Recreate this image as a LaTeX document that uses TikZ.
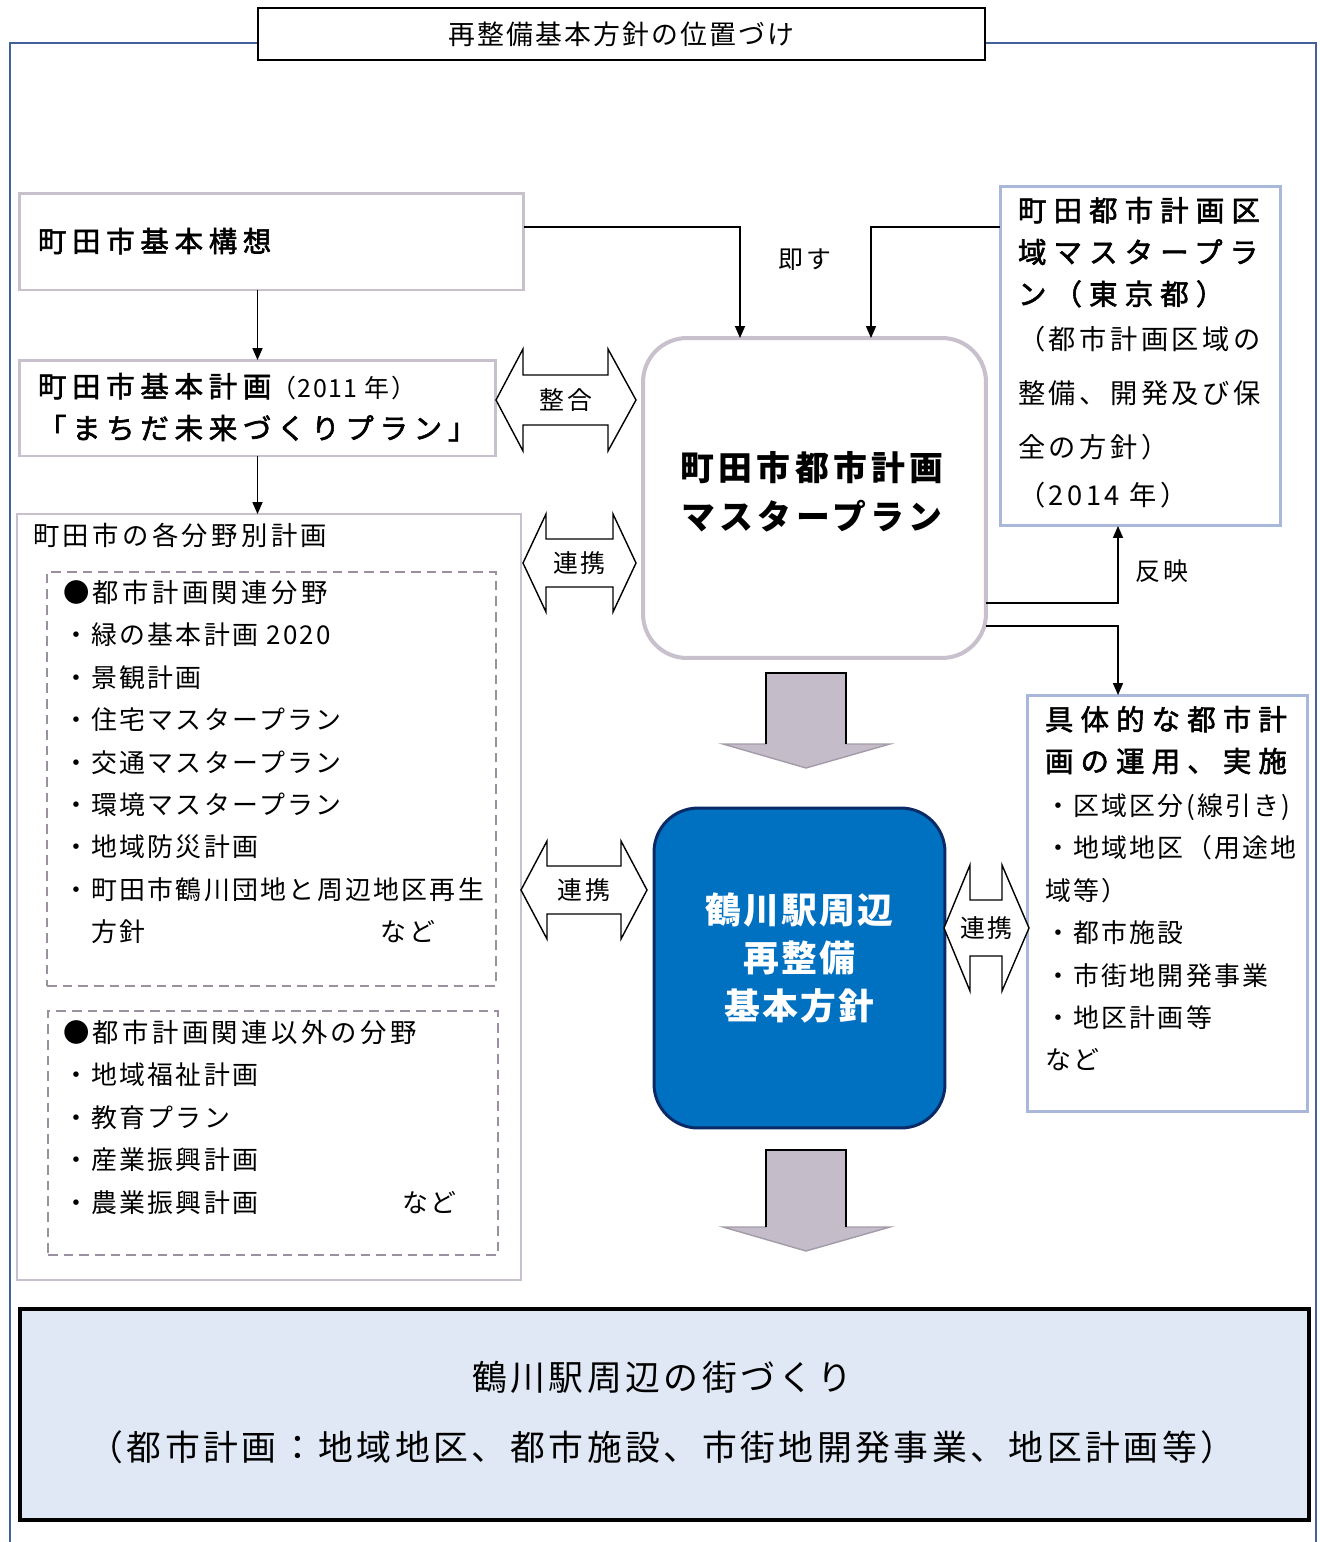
\documentclass[tikz,border=0pt]{standalone}
\usepackage{fontspec}
\setmainfont{Noto Sans CJK JP}
\usetikzlibrary{arrows.meta}

\definecolor{frameblue}{HTML}{44609A}
\definecolor{boxgray}{HTML}{C8C0CC}
\definecolor{dashgray}{HTML}{9A90A0}
\definecolor{paleblue}{HTML}{A9B8DA}
\definecolor{planblue}{HTML}{0070C0}
\definecolor{navy}{HTML}{0A2A66}
\definecolor{arrowgray}{HTML}{C4BDC9}
\definecolor{arrowedge}{HTML}{A39BA8}
\definecolor{townfill}{HTML}{DFE8F4}

\newcommand{\jpbody}{\fontsize{14.74pt}{24.15pt}\selectfont\addfontfeature{LetterSpace=9}}
\newcommand{\jpsub}{\fontsize{15pt}{24.15pt}\selectfont\addfontfeature{LetterSpace=13}}
\newcommand{\jphead}{\fontsize{16.2pt}{23.8pt}\selectfont\addfontfeature{LetterSpace=20,FakeBold=2}}
\newcommand{\jpheadw}{\fontsize{16.2pt}{23.8pt}\selectfont\addfontfeature{LetterSpace=25,FakeBold=2}}
\newcommand{\jpyear}{\fontsize{14.2pt}{23.8pt}\selectfont\addfontfeature{LetterSpace=6,FakeBold=0}}
\newcommand{\jpnote}{\fontsize{15.5pt}{30.6pt}\selectfont\addfontfeature{LetterSpace=13}}
\newcommand{\jpbig}{\fontsize{19.27pt}{27.78pt}\selectfont\bfseries\addfontfeature{LetterSpace=13}}
\newcommand{\jpblue}{\fontsize{20.4pt}{27.2pt}\selectfont\bfseries\addfontfeature{LetterSpace=6}}
\newcommand{\jpbottom}{\fontsize{19.84pt}{40.25pt}\selectfont\addfontfeature{LetterSpace=10}}
\newcommand{\jptitle}{\fontsize{15.3pt}{20pt}\selectfont\addfontfeature{LetterSpace=8}}
\newcommand{\jplabel}{\fontsize{14.17pt}{20pt}\selectfont\addfontfeature{LetterSpace=12}}

\begin{document}
\begin{tikzpicture}[x=0.02cm, y=-0.02cm,
  every node/.style={inner sep=0pt, outer sep=0pt},
  plainbox/.style={draw=boxgray, line width=1.7pt, fill=white},
  dashbox/.style={draw=dashgray, line width=1.1pt, dash pattern=on 5.5pt off 3.4pt},
  bluebox/.style={draw=paleblue, line width=1.7pt, fill=white},
  conn/.style={line width=0.8pt, -{Triangle[length=6.8pt, width=5.7pt]}},
  twoway/.style={draw=black, line width=0.8pt, fill=white, line join=miter},
  list/.style={anchor=north west, align=left}]

\useasboundingbox (0,0) rectangle (1319,1542);

% outer frame and title
\draw[frameblue, line width=1.4pt] (10,1542) -- (10,43) -- (1316,43) -- (1316,1542);
\node[draw, line width=0.9pt, fill=white, minimum width=14.54cm, minimum height=1.04cm, font=\jptitle] (title) at (621.5,34) {再整備基本方針の位置づけ};

% boxes
\node[plainbox, minimum width=10.1cm, minimum height=1.94cm] (koso) at (271.5,241.5) {};
\node[plainbox, minimum width=9.54cm, minimum height=1.92cm] (keikaku) at (257.5,408) {};
\node[plainbox, line width=1.1pt, minimum width=10.08cm, minimum height=15.32cm] (bunya) at (269,897) {};
\node[dashbox, minimum width=8.98cm, minimum height=8.28cm] (kanren) at (271.5,779) {};
\node[dashbox, minimum width=9cm, minimum height=4.88cm] (igai) at (273,1133) {};
\node[plainbox, line width=2.3pt, rounded corners=25pt, minimum width=6.86cm, minimum height=6.4cm] (master) at (814.5,498) {};
\node[bluebox, minimum width=5.62cm, minimum height=6.8cm] (tokyo) at (1140.5,356) {};
\node[bluebox, minimum width=5.62cm, minimum height=8.34cm] (gutai) at (1167.5,903.5) {};
\node[draw=navy, fill=planblue, line width=1.7pt, rounded corners=25pt, minimum width=5.82cm, minimum height=6.4cm] (hoshin) at (799.5,968) {};
\node[draw=black, fill=townfill, line width=2.3pt, minimum width=25.78cm, minimum height=4.22cm] (machi) at (664.5,1414.5) {};

% texts
\node[anchor=west, font=\jphead] (kosotext) at (38,241) {町田市基本構想};
\node[list, font=\jphead] (keikakutext) at (38,373) {町田市基本計画{\jpyear（2011 年）}\\「まちだ未来づくりプラン」};
\node[anchor=west, font=\jpsub] (bunyatext) at (33,535) {町田市の各分野別計画};
\node[list, font=\jpbody] (kanrentext) at (63,580) {{\jpsub ●都市計画関連分野}\\・緑の基本計画 2020\\・景観計画\\・住宅マスタープラン\\・交通マスタープラン\\・環境マスタープラン\\・地域防災計画\\・町田市鶴川団地と周辺地区再生\\　方針\hspace{134pt}など};
\node[list, font=\jpbody] (igaitext) at (63,1020) {{\jpsub ●都市計画関連以外の分野}\\・地域福祉計画\\・教育プラン\\・産業振興計画\\・農業振興計画\hspace{82pt}など};
\node[font=\jpbig, align=center] (mastertext) at (812,491.5) {町田市都市計画\\マスタープラン};
\node[list, font=\jpheadw] (tokyohead) at (1018,197) {町田都市計画区\\域マスタープラ\\ン（東京都）};
\node[list, font=\jpnote] (tokyotext) at (1018,326.5) {（都市計画区域の\\整備、開発及び保\\全の方針）\\[-3.4pt]（2014 年）};
\node[list, font=\jpheadw] (gutaihead) at (1045,706) {具体的な都市計\\画の運用、実施};
\node[list, font=\jpbody] (gutaitext) at (1045,793.5) {・区域区分(線引き)\\・地域地区（用途地\\域等）\\・都市施設\\・市街地開発事業\\・地区計画等\\など};
\node[font=\jpblue, text=white, align=center] (hoshintext) at (799,958) {鶴川駅周辺\\再整備\\基本方針};
\node[font=\jpbottom, align=center] (machitext) at (662,1412.5) {鶴川駅周辺の街づくり\\（都市計画：地域地区、都市施設、市街地開発事業、地区計画等）};

% connectors
\coordinate (sokusu) at (740,227);
\coordinate (tokyoin) at (871,227);
\coordinate (hanei) at (1118,603);
\coordinate (jisshi) at (1118,626);
\draw[conn] (keikaku.north |- koso.south) -- (keikaku.north);
\draw[conn] (keikaku.south) -- (keikaku.south |- bunya.north);
\draw[conn] (koso.east |- sokusu) -- (sokusu) -- (sokusu |- master.north);
\draw[conn] (tokyo.west |- tokyoin) -- (tokyoin) -- (tokyoin |- master.north);
\draw[conn] (master.east |- hanei) -- (hanei) -- (hanei |- tokyo.south);
\draw[conn] (master.east |- jisshi) -- (jisshi) -- (jisshi |- gutai.north);
\node[font=\jplabel] (sokusulabel) at (805,260) {即す};
\node[font=\jplabel] (hanei label) at (1162,571) {反映};

% two-way arrows
\foreach \xl/\xa/\xb/\xr/\yc/\hh/\sh/\lab [count=\i] in
  {496/523/608/636/400/51/25/整合, 523/546/613/636/563/49/24/連携,
   521/547/621/647/890/49/24/連携, 944/970/1002/1029/928/63/28/連携}{
  \draw[twoway] (\xl,\yc) -- (\xa,\yc-\hh) -- (\xa,\yc-\sh) -- (\xb,\yc-\sh) -- (\xb,\yc-\hh)
    -- (\xr,\yc) -- (\xb,\yc+\hh) -- (\xb,\yc+\sh) -- (\xa,\yc+\sh) -- (\xa,\yc+\hh) -- cycle;
  \node[font=\jplabel] (link\i) at ({(\xl+\xr)/2},\yc) {\lab};
}

% block arrows
\foreach \yt/\yb/\ytip in {673/744/768, 1150/1227/1251}{
  \draw[fill=arrowgray, draw=arrowedge, line width=0.8pt] (766,\yt) -- (846,\yt) -- (846,\yb) -- (890,\yb)
    -- (806,\ytip) -- (723,\yb) -- (766,\yb) -- cycle;
  \draw[line width=0.8pt] (766,\yb) -- (766,\yt) -- (846,\yt) -- (846,\yb);
}
\end{tikzpicture}
\end{document}
